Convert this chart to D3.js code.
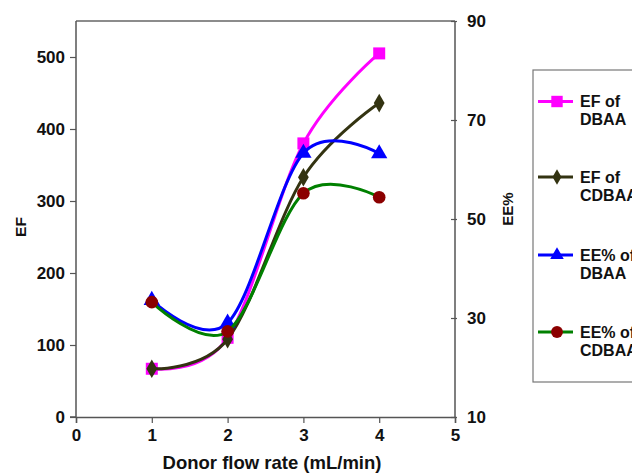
<!DOCTYPE html>
<html><head><meta charset="utf-8">
<script src="https://cdn.jsdelivr.net/npm/d3@7"></script>
<style>body{margin:0;background:#fff;}svg{display:block;font-family:"Liberation Sans",Arial,sans-serif;font-weight:bold;}</style>
</head><body><svg id="c" width="632" height="474"></svg>
<script>
const flowRates = [1, 2, 3, 4];
const efDBAA = [67, 110, 380, 505];
const efCDBAA = [67, 108, 333, 436];
const eeDBAA = [33.6, 29, 63.3, 63.2];
const eeCDBAA = [33.2, 27.3, 55.2, 54.4];
const xTicks = [0, 1, 2, 3, 4, 5];
const yLeftTicks = [0, 100, 200, 300, 400, 500];
const yRightTicks = [10, 30, 50, 70, 90];
const legendLabels = [["EF of", "DBAA"], ["EF of", "CDBAA"], ["EE% of", "DBAA"], ["EE% of", "CDBAA"]];

const svg = d3.select("#c");
const L = 76, R = 455, T = 21, B = 417;
const x = d3.scaleLinear().domain([0, 5]).range([L, R]);
const yL = d3.scaleLinear().domain([0, 550]).range([B, T]);
const yR = d3.scaleLinear().domain([10, 90]).range([B, T]);

// frame top
svg.append("line").attr("x1", L).attr("x2", R).attr("y1", T).attr("y2", T).attr("stroke", "#666").attr("stroke-width", 1.5);

const gx = svg.append("g").attr("transform", `translate(0,${B})`)
  .call(d3.axisBottom(x).tickValues(xTicks).tickSize(6).tickPadding(6).tickFormat(d3.format("d")));
const gl = svg.append("g").attr("transform", `translate(${L},0)`)
  .call(d3.axisLeft(yL).tickValues(yLeftTicks).tickSize(6).tickPadding(5).tickFormat(d3.format("d")));
const gr = svg.append("g").attr("transform", `translate(${R},0)`)
  .call(d3.axisRight(yR).tickValues(yRightTicks).tickSize(5).tickPadding(7).tickFormat(d3.format("d")));
gr.selectAll(".tick line").attr("x1", -4).attr("x2", 2);
[gx, gl, gr].forEach(g => {
  g.select(".domain").attr("stroke", "#555").attr("stroke-width", 1.5);
  g.selectAll(".tick line").attr("stroke", "#555").attr("stroke-width", 1.2);
  g.selectAll("text").attr("fill", "#111").style("font-size", "17px").style("font-weight", "bold")
   .style("font-family", "'Liberation Sans', Arial, sans-serif");
});
gl.select(".domain").attr("d", `M-6,${B}H0V${T}`);
gr.select(".domain").attr("d", `M0,${B}V${T}`);

const series = [
  {vals: efDBAA, y: yL, line: "#ff00ff", fill: "#ff00ff", sym: d3.symbolSquare, size: 144, lsize: 130},
  {vals: efCDBAA, y: yL, line: "#333311", fill: "#333311", sym: d3.symbolDiamond, size: 100, lsize: 70},
  {vals: eeDBAA, y: yR, line: "#0000ff", fill: "#0000ff", sym: d3.symbolTriangle, size: 115, lsize: 80},
  {vals: eeCDBAA, y: yR, line: "#008000", fill: "#8b0000", sym: d3.symbolCircle, size: 125, lsize: 110},
];
series.forEach(s => {
  const data = flowRates.map((f, i) => [f, s.vals[i]]);
  svg.append("path").datum(data)
    .attr("d", d3.line().x(d => x(d[0])).y(d => s.y(d[1])).curve(d3.curveCatmullRom.alpha(0)))
    .attr("fill", "none").attr("stroke", s.line).attr("stroke-width", 3);
  svg.selectAll(null).data(data).enter().append("path")
    .attr("d", d3.symbol().type(s.sym).size(s.size))
    .attr("transform", d => `translate(${x(d[0])},${s.y(d[1])})`)
    .attr("fill", s.fill);
});

// axis titles
svg.append("text").attr("x", 272).attr("y", 469).attr("text-anchor", "middle").style("font-size", "18.5px").attr("fill", "#111").text("Donor flow rate (mL/min)");
svg.append("text").attr("transform", "translate(26,227) rotate(-90)").attr("text-anchor", "middle").style("font-size", "15.5px").attr("fill", "#111").text("EF");
svg.append("text").attr("transform", "translate(513,209) rotate(-90)").attr("text-anchor", "middle").style("font-size", "15px").attr("fill", "#111").text("EE%");

// legend
svg.append("rect").attr("x", 533).attr("y", 70).attr("width", 120).attr("height", 312).attr("fill", "#fff").attr("stroke", "#777").attr("stroke-width", 1.2);
const ly = [101.5, 177, 255, 332];
series.forEach((s, i) => {
  const g = svg.append("g").attr("transform", `translate(0,${ly[i]})`);
  g.append("line").attr("x1", 538).attr("x2", 573).attr("y1", 0).attr("y2", 0).attr("stroke", s.line).attr("stroke-width", 3);
  g.append("path").attr("d", d3.symbol().type(s.sym).size(s.lsize)).attr("transform", "translate(557,0)").attr("fill", s.fill);
  g.append("text").attr("x", 580).attr("y", 5.5).style("font-size", "16px").attr("fill", "#111").text(legendLabels[i][0]);
  g.append("text").attr("x", 580).attr("y", 23.5).style("font-size", "16px").attr("fill", "#111").text(legendLabels[i][1]);
});
</script></body></html>
